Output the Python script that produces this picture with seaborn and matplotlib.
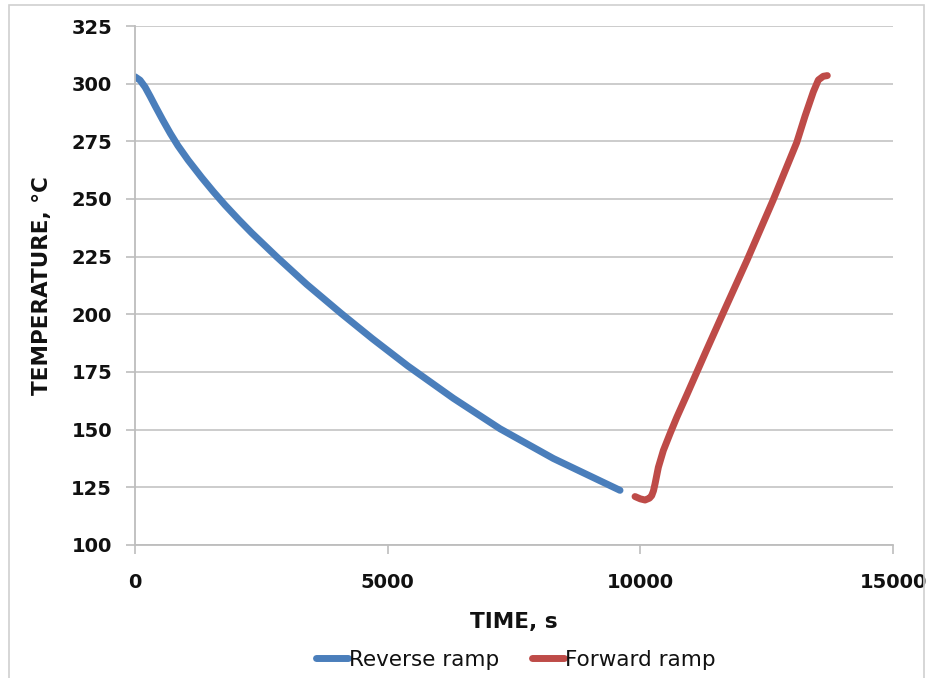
import matplotlib
matplotlib.use("Agg")
import matplotlib.pyplot as plt
import seaborn as sns
import pandas as pd
from matplotlib.patches import Rectangle

# Data
reverse_time = [0, 100, 200, 300, 400, 550, 700, 850, 1050, 1320, 1550, 1781, 2050, 2309,
                2800, 3398, 4080, 4700, 5400, 6300, 7223, 8279, 9598]
reverse_temp = [303.0, 301.5, 298.5, 294.5, 290.3, 284.2, 278.4, 273.1, 266.9, 259.3, 253.2,
                247.4, 241.1, 235.3, 225.0, 213.0, 200.4, 189.4, 177.6, 163.6, 150.4, 137.5, 123.7]
forward_time = [9895, 10000, 10093, 10180, 10225, 10260, 10291, 10357, 10456, 10588, 10720,
                10918, 11300, 11637, 12112, 12627, 13095, 13260, 13424, 13523, 13620, 13700]
forward_temp = [121.0, 120.0, 119.5, 120.3, 121.4, 123.5, 126.5, 133.7, 141.0, 148.3, 155.3,
                165.0, 184.0, 200.5, 223.5, 249.5, 274.5, 286.0, 296.5, 301.6, 303.2, 303.5]
series_names = ["Reverse ramp", "Forward ramp"]
x_ticks = [0, 5000, 10000, 15000]
y_ticks = [100, 125, 150, 175, 200, 225, 250, 275, 300, 325]

df = pd.concat([
    pd.DataFrame({"time": reverse_time, "temp": reverse_temp, "series": series_names[0]}),
    pd.DataFrame({"time": forward_time, "temp": forward_temp, "series": series_names[1]}),
], ignore_index=True)

sns.set_style("white")
plt.rcParams["font.family"] = ["DejaVu Sans"]

W, H = 930, 678
fig = plt.figure(figsize=(W / 100, H / 100), dpi=100)
ax = fig.add_axes([135 / W, 1 - 545 / H, (893 - 135) / W, (545 - 26) / H])

palette = {series_names[0]: "#4A7EBB", series_names[1]: "#BE4B48"}
sns.lineplot(data=df, x="time", y="temp", hue="series", palette=palette, sort=False,
             linewidth=5, ax=ax, legend=True, estimator=None)
for ln in ax.lines:
    ln.set_solid_capstyle("round")
    ln.set_solid_joinstyle("round")

ax.set_xlim(0, 15000)
ax.set_ylim(100, 325)
ax.set_xticks(x_ticks)
ax.set_yticks(y_ticks)
ax.set_xticklabels([str(v) for v in x_ticks], fontsize=14, fontweight="bold", color="#111111")
ax.set_yticklabels([str(v) for v in y_ticks], fontsize=14, fontweight="bold", color="#111111")
ax.yaxis.grid(True, color="#c8c8c8", linewidth=1.3)
ax.xaxis.grid(False)
for s in ["top", "right"]:
    ax.spines[s].set_visible(False)
for s in ["left", "bottom"]:
    ax.spines[s].set_color("#bdbdbd")
    ax.spines[s].set_linewidth(1.3)
ax.tick_params(axis="both", which="major", length=6.5, width=1.2, color="#bdbdbd",
               direction="out", bottom=True, left=True)
ax.tick_params(axis="y", pad=10)
ax.tick_params(axis="x", pad=14)
ax.set_xlabel("TIME, s", fontsize=15.5, fontweight="bold", color="#111111", labelpad=14)
ax.set_ylabel("TEMPERATURE, °C", fontsize=15.5, fontweight="bold", color="#111111", labelpad=14)

handles, labels = ax.get_legend_handles_labels()
ax.get_legend().remove()
leg = fig.legend(handles, labels, loc="center", bbox_to_anchor=(516 / W, 1 - 660 / H),
                 ncol=2, frameon=False, fontsize=15.5, handlelength=1.5, handletextpad=0.05,
                 columnspacing=1.5)
for t in leg.get_texts():
    t.set_color("#111111")
for lh in leg.get_lines():
    lh.set_linewidth(5)
    lh.set_solid_capstyle("round")

fig.patches.append(Rectangle((9 / W, -0.05), (924 - 9) / W, 1.05 - 5 / H,
                             transform=fig.transFigure, fill=False,
                             edgecolor="#d0d0d0", linewidth=1.2))

fig.savefig("out.png", dpi=100, facecolor="white")
